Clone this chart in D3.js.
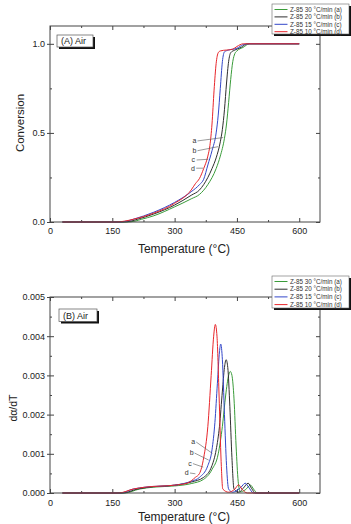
<!DOCTYPE html>
<html>
<head>
<meta charset="utf-8">
<script src="https://cdn.jsdelivr.net/npm/d3@7"></script>
<style>
body { margin: 0; background: #fff; }
text { font-family: "Liberation Sans", Arial, sans-serif; }
</style>
</head>
<body>
<script>
// series: a = 30, b = 20, c = 15, d = 10 °C/min
var seriesNames = ["Z-85 30 °C/min (a)", "Z-85 20 °C/min (b)", "Z-85 15 °C/min (c)", "Z-85 10 °C/min (d)"];
var seriesColors = ["#3a9c3a", "#2e2e2e", "#3347c9", "#e8262b"];
var letters = ["a", "b", "c", "d"];

// conversion vs temperature, [T, alpha]
var convA = [[30,0],[185,0],[205,0.005],[220,0.015],[250,0.035],[300,0.085],[340,0.13],[360,0.155],[380,0.21],[400,0.30],[410,0.37],[420,0.47],[425,0.55],[430,0.67],[435,0.80],[440,0.90],[445,0.945],[450,0.96],[465,0.98],[480,1.0],[600,1.0]];
var convB = [[30,0],[175,0],[195,0.005],[210,0.015],[250,0.045],[300,0.095],[340,0.15],[360,0.18],[380,0.25],[390,0.30],[400,0.36],[410,0.45],[415,0.52],[420,0.63],[425,0.78],[430,0.90],[435,0.95],[445,0.965],[460,0.98],[475,1.0],[600,1.0]];
var convC = [[30,0],[165,0],[185,0.005],[200,0.015],[250,0.055],[300,0.11],[340,0.17],[360,0.21],[370,0.24],[380,0.32],[390,0.40],[400,0.50],[405,0.60],[410,0.75],[415,0.90],[420,0.955],[430,0.965],[450,0.975],[465,0.995],[480,1.0],[600,1.0]];
var convD = [[30,0],[160,0],[180,0.005],[200,0.015],[250,0.05],[300,0.105],[340,0.18],[350,0.215],[360,0.245],[370,0.30],[380,0.37],[385,0.43],[390,0.55],[395,0.74],[400,0.89],[405,0.95],[410,0.96],[440,0.97],[450,0.985],[465,1.0],[600,1.0]];

// d(alpha)/dT vs temperature, [T, rate]
var rateA = [[30,0],[180,0],[215,0.0001],[250,0.00015],[300,0.00018],[340,0.00024],[370,0.00035],[390,0.0006],[405,0.001],[415,0.0017],[423,0.0025],[430,0.003],[434,0.0031],[438,0.003],[443,0.0024],[448,0.0012],[453,0.0003],[458,0.00003],[470,0.00008],[483,0.0002],[490,0.0001],[500,0],[600,0]];
var rateB = [[30,0],[175,0],[210,0.0001],[240,0.00015],[300,0.0002],[340,0.00028],[370,0.0004],[390,0.0007],[400,0.0011],[408,0.0017],[415,0.0026],[420,0.0032],[424,0.0034],[428,0.0032],[433,0.0022],[438,0.0009],[443,0.0001],[455,0.00002],[465,0.00012],[477,0.00025],[485,0.00012],[495,0],[600,0]];
var rateC = [[30,0],[170,0],[200,0.0001],[230,0.00015],[300,0.0002],[340,0.0003],[360,0.0004],[380,0.0007],[390,0.0011],[397,0.0018],[403,0.0028],[408,0.0036],[411,0.0038],[415,0.0034],[420,0.002],[425,0.0007],[430,0.0001],[440,0.00002],[460,0.00015],[470,0.00025],[478,0.00015],[490,0],[600,0]];
var rateD = [[30,0],[165,0],[200,0.0001],[230,0.00015],[300,0.0002],[330,0.00025],[350,0.0004],[360,0.0005],[370,0.0009],[380,0.0017],[388,0.003],[394,0.004],[398,0.0043],[402,0.004],[407,0.0025],[412,0.0008],[416,0.0001],[430,0.00002],[445,0.0001],[454,0.00021],[462,0.0001],[475,0],[600,0]];

var xTicks = [0, 150, 300, 450, 600];
var xMinor = [75, 225, 375, 525];
var convTicks = [0, 0.5, 1.0];
var convMinor = [0.25, 0.75];
var rateTicks = [0, 0.001, 0.002, 0.003, 0.004, 0.005];
var rateMinor = [0.0005, 0.0015, 0.0025, 0.0035, 0.0045];

// letter labels and leader lines, in data units
var convLabels = [[348,0.441],[348,0.388],[345,0.334],[344,0.287]];
var convLeaders = [[[355,0.455],[417,0.474]],[[355,0.40],[405,0.423]],[[353,0.348],[381,0.352]],[[352,0.302],[369,0.302]]];
var rateLabels = [[345,0.00125],[341,0.00097],[337,0.0007],[329,0.00046]];
var rateLeaders = [[[352,0.0013],[391,0.00101]],[[348,0.00102],[382,0.00084]],[[344,0.00075],[369,0.00066]],[[337,0.00051],[350,0.00049]]];

var svg = d3.select("body").append("svg").attr("width", 351).attr("height", 524);

function makePanel(cfg) {
    var x = d3.scaleLinear().domain([0, 650]).range([cfg.left, cfg.right]);
    var y = d3.scaleLinear().domain(cfg.yDomain).range([cfg.bottom, cfg.top]);
    var g = svg.append("g");

    // inward ticks bottom, top, right
    g.append("g").attr("transform", "translate(0," + cfg.bottom + ")")
        .call(d3.axisBottom(x).tickValues(xTicks).tickSizeInner(-4).tickSizeOuter(0).tickPadding(cfg.xPad))
        .call(s => s.select(".domain").remove())
        .call(s => s.selectAll("text").style("font-size", "9px").attr("fill", "#222"));
    g.append("g").attr("transform", "translate(0," + cfg.bottom + ")")
        .call(d3.axisBottom(x).tickValues(xMinor).tickSizeInner(-2).tickSizeOuter(0).tickFormat(""))
        .call(s => s.select(".domain").remove());
    g.append("g").attr("transform", "translate(0," + cfg.top + ")")
        .call(d3.axisTop(x).tickValues(xTicks).tickSizeInner(-4).tickSizeOuter(0).tickFormat(""))
        .call(s => s.select(".domain").remove());
    g.append("g").attr("transform", "translate(0," + cfg.top + ")")
        .call(d3.axisTop(x).tickValues(xMinor).tickSizeInner(-2).tickSizeOuter(0).tickFormat(""))
        .call(s => s.select(".domain").remove());

    g.append("g").attr("transform", "translate(" + cfg.left + ",0)")
        .call(d3.axisLeft(y).tickValues(cfg.yTicks).tickSizeInner(3).tickSizeOuter(0).tickPadding(2).tickFormat(cfg.yFormat))
        .call(s => s.select(".domain").remove())
        .call(s => s.selectAll("text").style("font-size", "9px").attr("fill", "#222"));
    g.append("g").attr("transform", "translate(" + cfg.left + ",0)")
        .call(d3.axisLeft(y).tickValues(cfg.yTicks).tickSizeInner(-4).tickSizeOuter(0).tickFormat(""))
        .call(s => s.select(".domain").remove());
    g.append("g").attr("transform", "translate(" + cfg.left + ",0)")
        .call(d3.axisLeft(y).tickValues(cfg.yMinor).tickSizeInner(-2).tickSizeOuter(0).tickFormat(""))
        .call(s => s.select(".domain").remove());
    g.append("g").attr("transform", "translate(" + cfg.right + ",0)")
        .call(d3.axisRight(y).tickValues(cfg.yTicks).tickSizeInner(-4).tickSizeOuter(0).tickFormat(""))
        .call(s => s.select(".domain").remove());
    g.append("g").attr("transform", "translate(" + cfg.right + ",0)")
        .call(d3.axisRight(y).tickValues(cfg.yMinor).tickSizeInner(-2).tickSizeOuter(0).tickFormat(""))
        .call(s => s.select(".domain").remove());
    g.selectAll(".tick line").attr("stroke", "#444");

    // curves
    var line = d3.line().x(d => x(d[0])).y(d => y(d[1])).curve(d3.curveMonotoneX);
    cfg.series.forEach((s, i) => {
        g.append("path").datum(s)
            .attr("fill", "none")
            .attr("stroke", seriesColors[i])
            .attr("stroke-width", 1)
            .attr("d", line);
    });

    // frame
    g.append("rect")
        .attr("x", cfg.left).attr("y", cfg.top)
        .attr("width", cfg.right - cfg.left).attr("height", cfg.bottom - cfg.top)
        .attr("fill", "none").attr("stroke", "#444").attr("stroke-width", 1);

    // letters + leaders
    letters.forEach((l, i) => {
        g.append("text")
            .attr("x", x(cfg.labels[i][0])).attr("y", y(cfg.labels[i][1]))
            .attr("text-anchor", "middle")
            .attr("fill", "#333")
            .style("font-size", "7px")
            .text(l);
        var ld = cfg.leaders[i];
        g.append("line")
            .attr("x1", x(ld[0][0])).attr("y1", y(ld[0][1]))
            .attr("x2", x(ld[1][0])).attr("y2", y(ld[1][1]))
            .attr("stroke", "#555").attr("stroke-width", 0.6);
    });

    // axis titles
    g.append("text")
        .attr("x", (cfg.left + cfg.right) / 2 - 1).attr("y", cfg.xTitleY)
        .attr("text-anchor", "middle")
        .attr("fill", "#222")
        .style("font-size", "12px")
        .text("Temperature (°C)");
    g.append("text")
        .attr("transform", "translate(" + cfg.yTitleX + "," + cfg.yTitleY + ") rotate(-90)")
        .attr("text-anchor", "middle")
        .attr("fill", "#222")
        .style("font-size", cfg.yTitleSize)
        .text(cfg.yTitle);

    // panel tag box with shadow
    var b = cfg.tag;
    g.append("rect").attr("x", b.x + 2).attr("y", b.y + 2).attr("width", b.w).attr("height", b.h).attr("fill", "#111");
    g.append("rect").attr("x", b.x).attr("y", b.y).attr("width", b.w).attr("height", b.h)
        .attr("fill", "#fff").attr("stroke", "#555").attr("stroke-width", 0.7);
    g.append("text").attr("x", b.x + 4).attr("y", b.y + b.h - 3)
        .attr("fill", "#222")
        .style("font-size", "9px").text(b.text);

    // legend with shadow
    var lg = cfg.legend;
    g.append("rect").attr("x", lg.x + 2).attr("y", lg.y + 2).attr("width", lg.w).attr("height", lg.h).attr("fill", "#111");
    g.append("rect").attr("x", lg.x).attr("y", lg.y).attr("width", lg.w).attr("height", lg.h)
        .attr("fill", "#fff").attr("stroke", "#666").attr("stroke-width", 0.6);
    seriesNames.forEach((n, i) => {
        var ry = lg.y + 5.5 + i * lg.step;
        g.append("line").attr("x1", lg.x + 2.5).attr("x2", lg.x + 15.5)
            .attr("y1", ry).attr("y2", ry)
            .attr("stroke", seriesColors[i]).attr("stroke-width", 1);
        g.append("text").attr("x", lg.x + 18).attr("y", ry + 2.2)
            .attr("fill", "#333")
            .style("font-size", "6.3px").text(n);
    });
}

makePanel({
    left: 50, right: 320, top: 26, bottom: 222,
    yDomain: [0, 1.1], yTicks: convTicks, yMinor: convMinor, yFormat: d3.format(".1f"),
    xPad: 6, xTitleY: 253, yTitle: "Conversion", yTitleX: 24, yTitleY: 123, yTitleSize: "11.5px",
    series: [convA, convB, convC, convD],
    labels: convLabels, leaders: convLeaders,
    tag: { x: 57, y: 35, w: 36, h: 12, text: "(A) Air" },
    legend: { x: 272, y: 4, w: 77, h: 30, step: 7.4 }
});

makePanel({
    left: 50, right: 320, top: 297, bottom: 493,
    yDomain: [0, 0.005], yTicks: rateTicks, yMinor: rateMinor, yFormat: d3.format(".3f"),
    xPad: 7, xTitleY: 520.5, yTitle: "dα/dT", yTitleX: 17, yTitleY: 408, yTitleSize: "10.5px",
    series: [rateA, rateB, rateC, rateD],
    labels: rateLabels, leaders: rateLeaders,
    tag: { x: 59, y: 309, w: 38, h: 12.5, text: "(B) Air" },
    legend: { x: 272, y: 276, w: 77, h: 32, step: 7.7 }
});
</script>
</body>
</html>
